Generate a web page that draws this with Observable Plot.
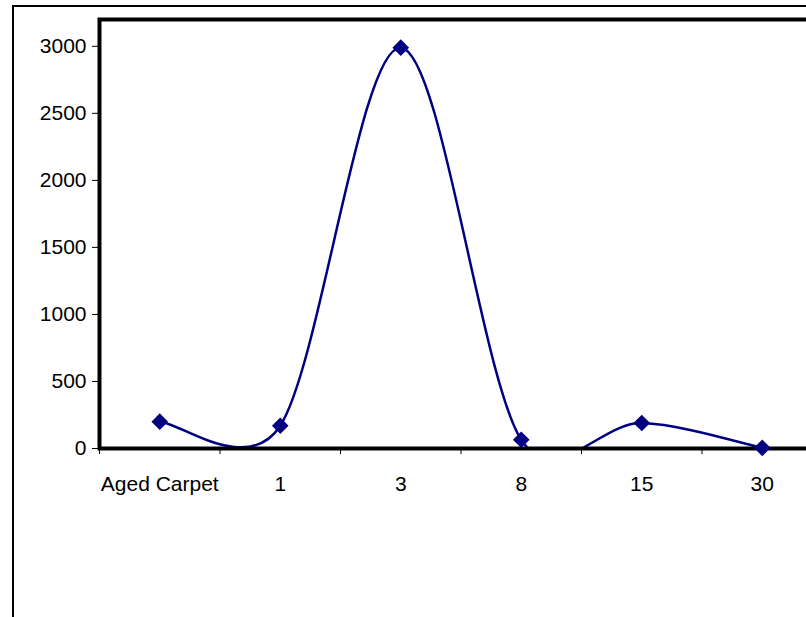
<!DOCTYPE html>
<html><head><meta charset="utf-8">
<script src="https://cdn.jsdelivr.net/npm/d3@7"></script>
<script src="https://cdn.jsdelivr.net/npm/@observablehq/plot@0.6"></script>
<style>
html,body{margin:0;padding:0;overflow:hidden;background:#fff;width:806px;height:617px;}
#outer{position:absolute;left:12px;top:5px;width:1000px;height:1000px;border:2px solid #000;box-sizing:border-box;}
#chart{position:absolute;left:0;top:0;}
</style></head><body>
<div id="outer"></div>
<div id="chart"></div>
<script>
const categories = ["Aged Carpet", "1", "3", "8", "15", "30"];
const values = [200, 170, 2990, 65, 190, 5];
const yTicks = [0, 500, 1000, 1500, 2000, 2500, 3000];

const data = categories.map((c, i) => ({i, cat: c, v: values[i]}));
const pos = d => d.i + 0.5;
const boundaries = d3.range(categories.length + 1);
const centers = categories.map((c, i) => i + 0.5);

// Spreadsheet-style smoothed line: Catmull-Rom tangents, capped at half the segment length
function SmoothCurve(context) { this._context = context; }
SmoothCurve.prototype = {
  areaStart() { this._line = 0; },
  areaEnd() { this._line = NaN; },
  lineStart() { this._pts = []; },
  lineEnd() {
    const p = this._pts, n = p.length, c = this._context;
    if (n) { if (this._line) c.lineTo(p[0][0], p[0][1]); else c.moveTo(p[0][0], p[0][1]); }
    if (n === 2) c.lineTo(p[1][0], p[1][1]);
    else if (n > 2) {
      for (let i = 0; i < n - 1; i++) {
        const p0 = p[Math.max(i - 1, 0)], p1 = p[i], p2 = p[i + 1], p3 = p[Math.min(i + 2, n - 1)];
        const cap = Math.hypot(p2[0] - p1[0], p2[1] - p1[1]) / 2;
        let ax = (p2[0] - p0[0]) / 6, ay = (p2[1] - p0[1]) / 6;
        let bx = (p3[0] - p1[0]) / 6, by = (p3[1] - p1[1]) / 6;
        const la = Math.hypot(ax, ay); if (la > cap) { ax *= cap / la; ay *= cap / la; }
        const lb = Math.hypot(bx, by); if (lb > cap) { bx *= cap / lb; by *= cap / lb; }
        c.bezierCurveTo(p1[0] + ax, p1[1] + ay, p2[0] - bx, p2[1] - by, p2[0], p2[1]);
      }
    }
    this._line = 1 - this._line;
  },
  point(x, y) { this._pts.push([+x, +y]); }
};
const smoothCurve = ctx => new SmoothCurve(ctx);

const chart = Plot.plot({
  width: 830,
  height: 617,
  marginLeft: 99,
  marginRight: 8,
  marginTop: 19,
  marginBottom: 169,
  style: {background: "transparent", maxWidth: "none", fontFamily: "'Liberation Sans', Arial, sans-serif", fontSize: "21px", color: "#000"},
  x: {domain: [0, categories.length], label: null},
  y: {domain: [0, 3200], label: null},
  marks: [
    Plot.line(data, {x: pos, y: "v", stroke: "#000080", strokeWidth: 2.5, curve: smoothCurve, clip: true}),
    Plot.axisY({ticks: yTicks, tickSize: 7, tickPadding: 6, tickFormat: d => String(d), label: null, fontSize: 21}),
    Plot.axisX({ticks: boundaries, tickSize: 6, tickFormat: () => "", label: null}),
    Plot.axisX({ticks: centers, tickSize: 0, tickPadding: 28, tickFormat: t => categories[Math.floor(t)], label: null, fontSize: 21}),
    Plot.frame({stroke: "#000", strokeWidth: 4}),
    Plot.dot(data, {x: pos, y: "v", symbol: "diamond2", r: 7.5, fill: "#000080", stroke: "none"})
  ]
});
document.getElementById("chart").appendChild(chart);
</script>
</body></html>
